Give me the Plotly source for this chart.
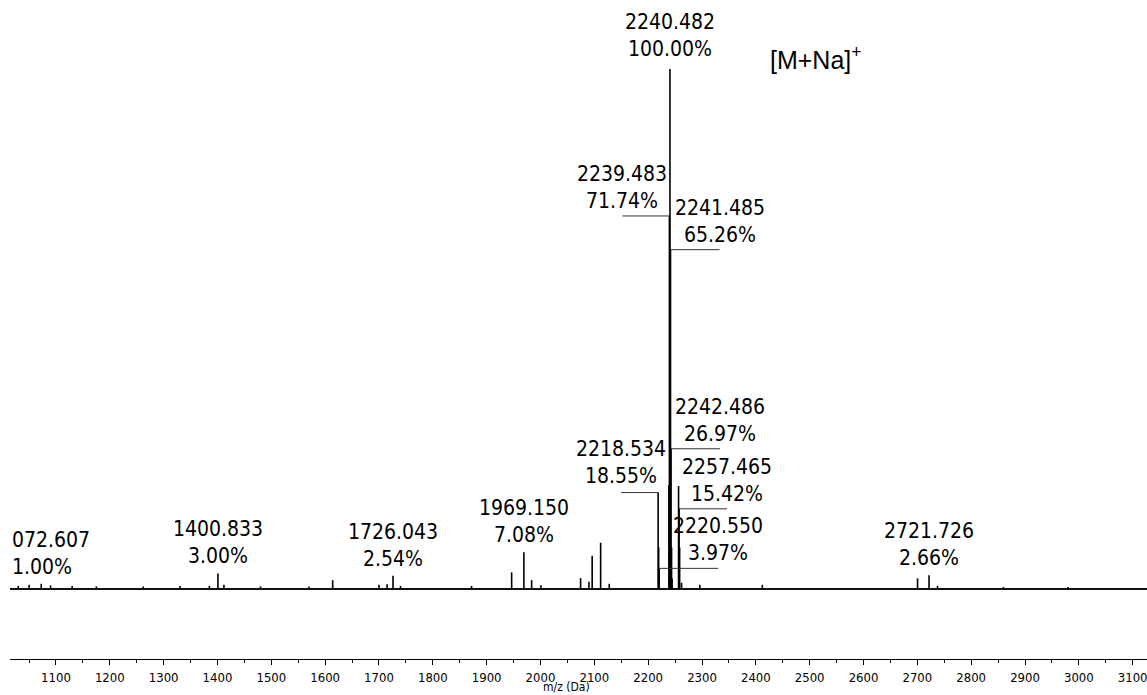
import plotly.graph_objects as go

# ---------------- data ----------------
# spectrum sticks: m/z and relative intensity (%)
peak_mz = [1030.0, 1050.2, 1072.607, 1090.0, 1130.0, 1175.0, 1262.0, 1330.5, 1385.0,
           1400.833, 1412.0, 1480.0, 1570.0, 1614.0, 1700.0, 1715.0, 1726.043, 1740.0,
           1872.0, 1946.4, 1969.150, 1983.5, 2000.8, 2074.5, 2090.0, 2096.0, 2111.7,
           2127.7, 2218.534, 2219.540, 2220.550, 2238.480, 2239.483, 2240.482, 2241.485,
           2242.486, 2243.490, 2244.490, 2256.470, 2257.465, 2258.470, 2262.0, 2296.0,
           2412.0, 2700.4, 2721.726, 2737.5, 2860.0, 2980.0]
peak_int = [0.6, 0.8, 1.00, 0.7, 0.6, 0.5, 0.5, 0.6, 0.6,
            3.00, 0.8, 0.5, 0.5, 1.7, 0.8, 0.9, 2.54, 0.6,
            0.6, 3.2, 7.08, 1.7, 0.7, 2.1, 1.4, 6.4, 8.9,
            1.0, 18.55, 8.0, 3.97, 20.0, 71.74, 100.00, 65.26,
            26.97, 8.0, 2.0, 19.8, 15.42, 8.0, 1.2, 0.8,
            0.8, 2.05, 2.66, 0.6, 0.4, 0.4]

# annotated peaks
label_mz = [1072.607, 1400.833, 1726.043, 1969.150, 2218.534, 2220.550,
            2239.483, 2240.482, 2241.485, 2242.486, 2257.465, 2721.726]
label_pct = [1.00, 3.00, 2.54, 7.08, 18.55, 3.97,
             71.74, 100.00, 65.26, 26.97, 15.42, 2.66]
label_mz_text = ["072.607", "1400.833", "1726.043", "1969.150", "2218.534", "2220.550",
                 "2239.483", "2240.482", "2241.485", "2242.486", "2257.465", "2721.726"]
label_pct_text = ["1.00%", "3.00%", "2.54%", "7.08%", "18.55%", "3.97%",
                  "71.74%", "100.00%", "65.26%", "26.97%", "15.42%", "2.66%"]

tick_vals = list(range(1100, 3101, 100))
ion_label = "[M+Na]<sup>+</sup>"
x_title = "m/z (Da)"

# ---------------- styles / layout ----------------
# leader line offset in px (0 = no leader), and gap above point in px
label_dx_px = [0, 0, 0, 0, -37, 59, -47, 0, 49, 49, 48, 0]
label_gap_px = [3, 3, 3, 3, 3, 1, 1, 6, 1, 1, 1, 3]
label_edge = [True] + [False] * 11

W, H = 1147, 695
ml, mr, mt, mb = 10, 0, 0, 36
x_min, x_max = 1014.6, 3126.6
y_min, y_max = -13.46, 113.27
plot_w = W - ml - mr
px_per_da = plot_w / (x_max - x_min)

LBL_FONT = "DejaVu Sans Condensed, DejaVu Sans, sans-serif"

fig = go.Figure()

# baseline (noise floor)
fig.add_trace(go.Scatter(x=[x_min, x_max], y=[0, 0], mode="lines",
                         line=dict(color="#111", width=2), hoverinfo="skip",
                         showlegend=False))

# sticks
sx, sy = [], []
for m, v in zip(peak_mz, peak_int):
    sx += [m, m, None]
    sy += [0, v, None]
fig.add_trace(go.Scatter(x=sx, y=sy, mode="lines",
                         line=dict(color="#000", width=1.6), hoverinfo="skip",
                         showlegend=False))

# leader lines
lx, ly = [], []
for m, p, dx in zip(label_mz, label_pct, label_dx_px):
    if dx != 0:
        lx += [m, m + dx / px_per_da, None]
        ly += [p, p, None]
fig.add_trace(go.Scatter(x=lx, y=ly, mode="lines",
                         line=dict(color="#333", width=1), hoverinfo="skip",
                         showlegend=False))

# labels
for m, p, t1, t2, dx, gap, edge in zip(label_mz, label_pct, label_mz_text, label_pct_text,
                                         label_dx_px, label_gap_px, label_edge):
    if edge:
        fig.add_annotation(x=x_min, y=p, text=f"{t1}<br>{t2}", showarrow=False,
                           xanchor="left", yanchor="bottom", align="left", yshift=gap,
                           font=dict(family=LBL_FONT, size=21, color="#000"))
    else:
        fig.add_annotation(x=m + dx / px_per_da, y=p, text=f"{t1}<br>{t2}", showarrow=False,
                           xanchor="center", yanchor="bottom", align="center", yshift=gap,
                           font=dict(family=LBL_FONT, size=21, color="#000"))

# ion label
fig.add_annotation(xref="paper", yref="paper", x=(816 - ml) / plot_w, y=(H - mb - 58) / (H - mb - mt),
                   text=ion_label, showarrow=False, xanchor="center", yanchor="middle",
                   font=dict(family="Liberation Sans, Arial, sans-serif", size=25, color="#000"))

# axis title
fig.add_annotation(xref="paper", yref="paper", x=(566 - ml) / plot_w, y=0, yanchor="top",
                   yshift=-19, text=x_title, showarrow=False,
                   font=dict(family=LBL_FONT, size=12, color="#000"))

fig.update_layout(
    width=W, height=H, margin=dict(l=ml, r=mr, t=mt, b=mb, autoexpand=False),
    paper_bgcolor="white", plot_bgcolor="white", showlegend=False,
    xaxis=dict(range=[x_min, x_max], tickvals=tick_vals, showgrid=False, zeroline=False,
               showline=True, linecolor="#000", linewidth=1, ticks="outside", ticklen=5,
               tickcolor="#000", tickwidth=1, automargin=False, ticklabelstandoff=1,
               ticklabeloverflow="allow",
               tickfont=dict(family=LBL_FONT, size=13, color="#000"),
               minor=dict(dtick=50, tick0=1000, ticks="outside", ticklen=3, tickcolor="#000")),
    yaxis=dict(range=[y_min, y_max], visible=False, showgrid=False, zeroline=False),
)

fig.write_html("out.html", config={"displayModeBar": False},
               post_script="document.body.style.margin='0';")
